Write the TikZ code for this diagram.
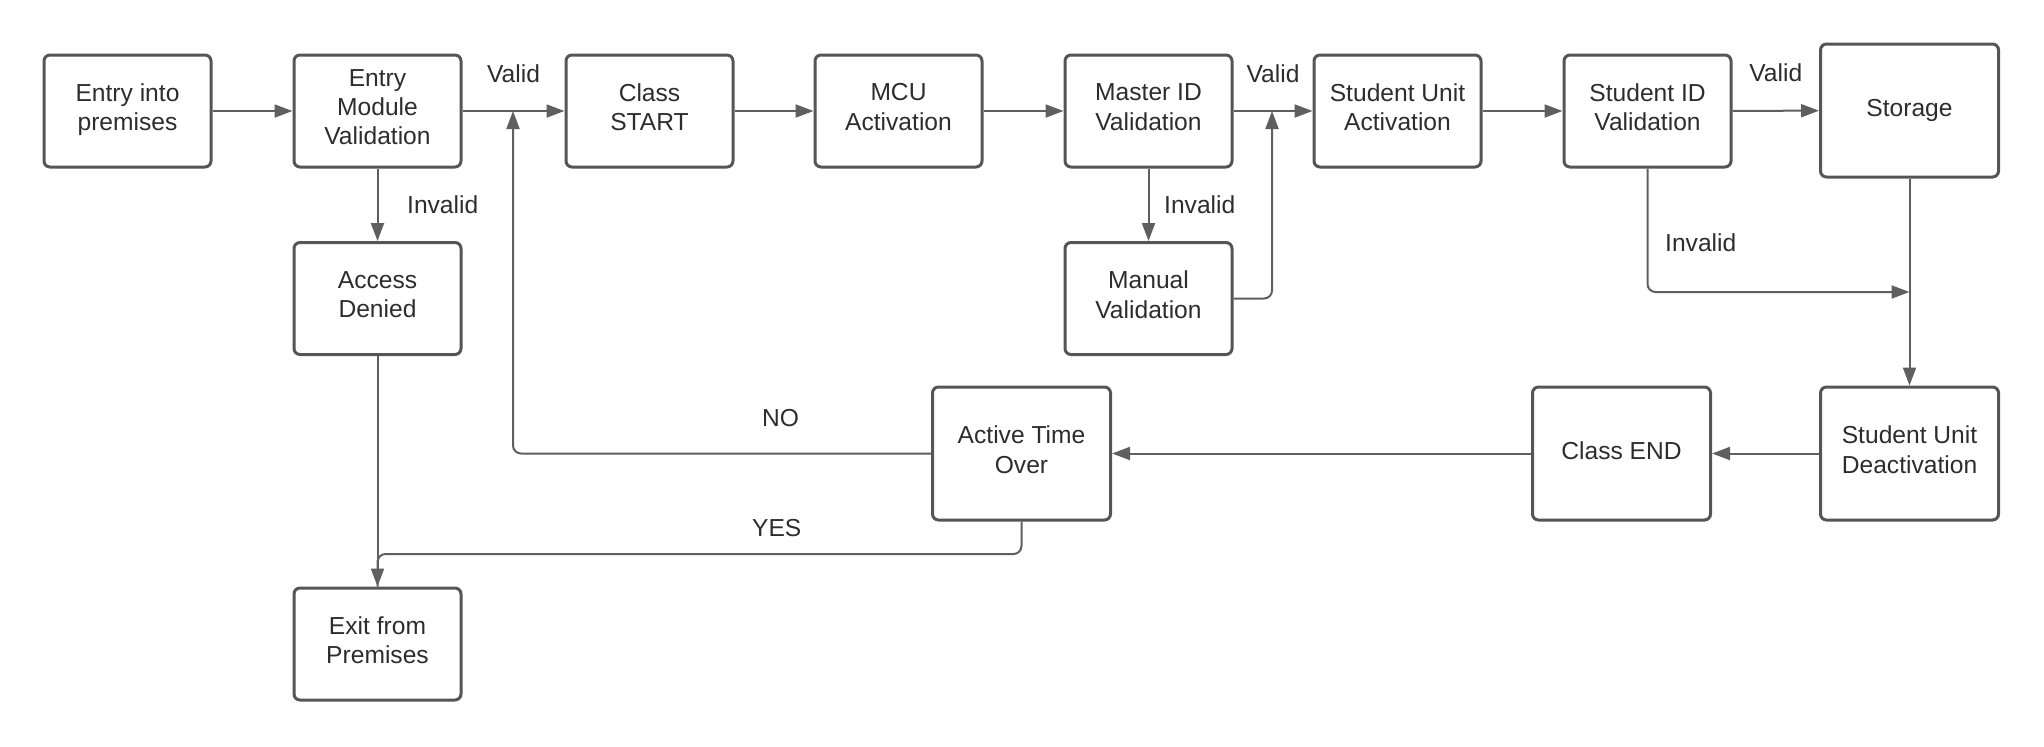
\documentclass[tikz,border=0pt]{standalone}
\usepackage{fontspec}
\setmainfont{Liberation Sans}
\usetikzlibrary{arrows.meta,positioning,calc}

\begin{document}
\begin{tikzpicture}[x=0.5pt, y=-0.5pt]
    % Colori
    \definecolor{boxgray}{RGB}{85,85,85}
    \definecolor{linegray}{RGB}{95,95,95}
    \definecolor{textgray}{RGB}{45,45,45}

    \tikzset{
        box/.style={draw=boxgray, line width=1.5pt, rounded corners=3pt, align=center,
            minimum width=83.5pt, minimum height=56pt, inner sep=2pt, text=textgray,
            font=\fontsize{12.3}{14.7}\selectfont,
            execute at begin node={\rule{0pt}{9.5pt}},
            execute at end node={\rule[-3.9pt]{0pt}{0pt}}},
        bigbox/.style={box, minimum width=89pt, minimum height=66.5pt},
        conn/.style={draw=linegray, line width=1pt, -{Triangle[length=9pt,width=6.5pt]}},
        wire/.style={draw=linegray, line width=1pt},
        lbl/.style={text=textgray, font=\fontsize{12.3}{14.7}\selectfont}
    }

    \useasboundingbox (0,0) rectangle (2044,746);

    % Riga superiore
    \node[box] (entry)    at (127.5,111)  {Entry into\\premises};
    \node[box] (modval)   at (377.5,111)  {Entry\\Module\\Validation};
    \node[box] (clsstart) at (649.5,111)  {Class\\START};
    \node[box] (mcu)      at (898.5,111)  {MCU\\Activation};
    \node[box] (masterid) at (1148.5,111) {Master ID\\Validation};
    \node[box] (unitact)  at (1397.5,111) {Student Unit\\Activation};
    \node[box] (studid)   at (1647.5,111) {Student ID\\Validation};
    \node[bigbox] (storage) at (1909.5,110.5) {Storage};

    % Riga intermedia
    \node[box] (denied) at (377.5,298.5)  {Access\\Denied};
    \node[box] (manual) at (1148.5,298.5) {Manual\\Validation};

    % Riga inferiore
    \node[bigbox] (activetime) at (1021.5,453.5) {Active Time\\Over};
    \node[bigbox] (clsend)     at (1621.5,453.5) {Class END};
    \node[bigbox] (unitdeact)  at (1909.5,453.5) {Student Unit\\Deactivation};
    \node[box] (exitp) at (377.5,644) {Exit from\\Premises};

    % Punti di giunzione
    \coordinate (nojoin)  at (513,111);
    \coordinate (manjoin) at (1272,111);
    \coordinate (invjoin) at (1909.5,292);
    \coordinate (yesturn) at (377.5,554);

    % Flusso principale
    \draw[conn] (entry) -- (modval);
    \draw[conn] (modval) -- node[lbl, above=10.5pt] {Valid} (clsstart);
    \draw[conn] (clsstart) -- (mcu);
    \draw[conn] (mcu) -- (masterid);
    \draw[conn] (masterid) -- node[lbl, above=10.5pt] {Valid} (unitact);
    \draw[conn] (unitact) -- (studid);
    \draw[conn] (studid) -- node[lbl, above=10.5pt] {Valid} (storage);
    \draw[conn] (storage) -- (unitdeact);
    \draw[conn] (unitdeact) -- (clsend);
    \draw[conn] (clsend) -- (activetime);

    % Rami non validi
    \draw[conn] (modval) -- node[lbl, right=11pt] {Invalid} (denied);
    \draw[conn] (masterid) -- node[lbl, right=4pt] {Invalid} (manual);
    \draw[conn, rounded corners=4pt] (manual.east) -| (manjoin);
    \draw[conn, rounded corners=4pt] (studid.south) |- node[lbl, pos=0.3, right=5pt] {Invalid} (invjoin);

    % Uscita e ritorno
    \draw[conn] (denied) -- (exitp);
    \draw[conn, rounded corners=4pt] (activetime.west) -| node[lbl, pos=0.18, above=9.5pt] {NO} (nojoin);
    \draw[wire, rounded corners=4pt] (activetime.south) |- node[lbl, pos=0.69, above=4.8pt] {YES} (yesturn) -- (exitp.north);
\end{tikzpicture}
\end{document}
